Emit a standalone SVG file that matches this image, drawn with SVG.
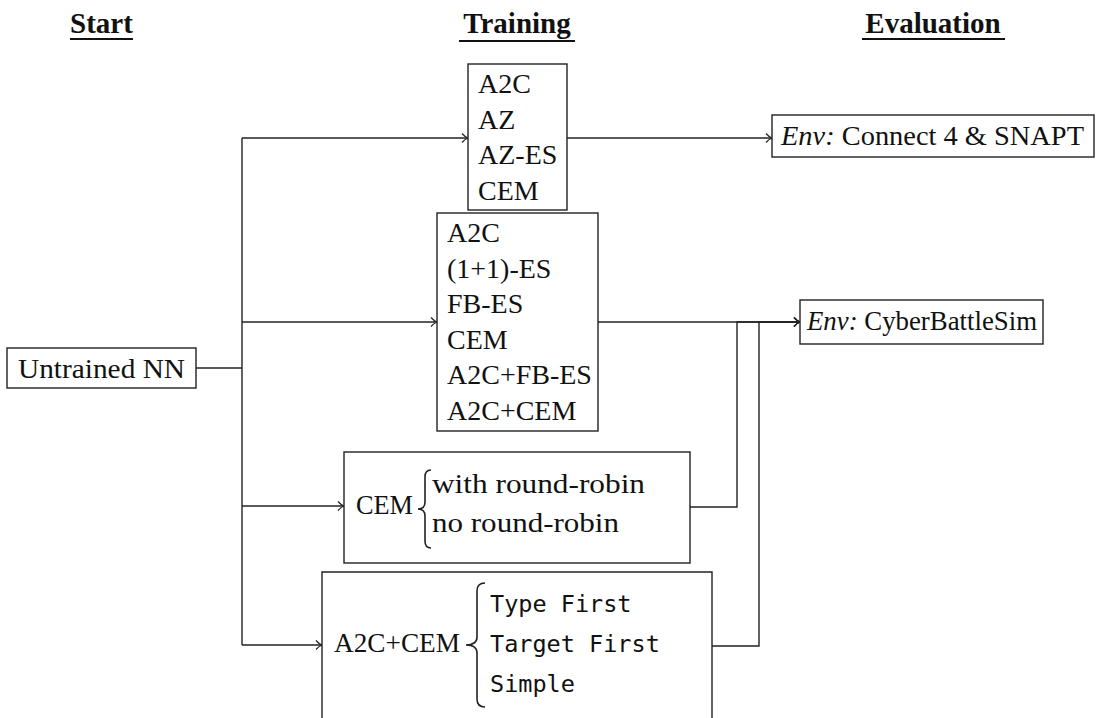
<svg xmlns="http://www.w3.org/2000/svg" width="1098" height="718" viewBox="0 0 1098 718">
<style>
.box{fill:#fff;stroke:#222;stroke-width:1.4}
.t{font-family:"Liberation Serif","Times New Roman",serif;font-size:28px;fill:#111}
.m{font-family:"DejaVu Sans Mono","Liberation Mono",monospace;font-size:23.5px;fill:#111}
.h{font-family:"Liberation Serif","Times New Roman",serif;font-size:29px;font-weight:bold;fill:#111}
.ln{fill:none;stroke:#222;stroke-width:1.4}
.br{fill:none;stroke:#222;stroke-width:1.6}
</style>
<defs>
<marker id="ar" markerUnits="userSpaceOnUse" markerWidth="12" markerHeight="12" refX="10" refY="6" orient="auto" overflow="visible">
<path d="M4,1.5 Q7,5 10,6 Q7,7 4,10.5" fill="none" stroke="#222" stroke-width="1.2"/>
</marker>
</defs>
<rect width="1098" height="718" fill="#fff"/>
<g id="titles">
<text class="h" x="101.5" y="33" text-anchor="middle">Start</text>
<line x1="70" y1="39" x2="133" y2="39" stroke="#111" stroke-width="2"/>
<text class="h" x="517" y="33" text-anchor="middle">Training</text>
<line x1="459" y1="41" x2="575" y2="41" stroke="#111" stroke-width="2"/>
<text class="h" x="933" y="33" text-anchor="middle">Evaluation</text>
<line x1="862" y1="39" x2="1005" y2="39" stroke="#111" stroke-width="2"/>
</g>
<g id="connectors">
<path class="ln" d="M196,368 H242" stroke-width="2"/>
<path class="ln" d="M242,138 V645"/>
<path class="ln" d="M242,138 H468" marker-end="url(#ar)"/>
<path class="ln" d="M242,322 H437" marker-end="url(#ar)"/>
<path class="ln" d="M242,506 H344" marker-end="url(#ar)"/>
<path class="ln" d="M242,645 H322" marker-end="url(#ar)"/>
<path class="ln" d="M567,138 H772" marker-end="url(#ar)"/>
<path class="ln" d="M598,322 H800" marker-end="url(#ar)"/>
<path class="ln" d="M690,507 H737 V322 H800" marker-end="url(#ar)"/>
<path class="ln" d="M712,646 H759 V322 H800" marker-end="url(#ar)"/>
</g>
<g id="untrained">
<rect class="box" x="7" y="348" width="189" height="40"/>
<text class="t" x="101.5" y="378" text-anchor="middle" textLength="167" lengthAdjust="spacingAndGlyphs">Untrained NN</text>
</g>
<g id="train1">
<rect class="box" x="468" y="64" width="99" height="146"/>
<text class="t" x="478" y="93">A2C</text>
<text class="t" x="478" y="128.5">AZ</text>
<text class="t" x="478" y="164">AZ-ES</text>
<text class="t" x="478" y="199.5">CEM</text>
</g>
<g id="train2">
<rect class="box" x="437" y="213" width="161" height="218"/>
<text class="t" x="447" y="242">A2C</text>
<text class="t" x="447" y="277.5">(1+1)-ES</text>
<text class="t" x="447" y="313">FB-ES</text>
<text class="t" x="447" y="348.5">CEM</text>
<text class="t" x="447" y="384">A2C+FB-ES</text>
<text class="t" x="447" y="419.5">A2C+CEM</text>
</g>
<g id="train3">
<rect class="box" x="344" y="452" width="346" height="111"/>
<text class="t" x="356" y="514" textLength="57" lengthAdjust="spacingAndGlyphs">CEM</text>
<path class="br" d="M431,470 Q425,470 425,477 V502 Q425,509 418,509 Q425,509 425,516 V541 Q425,548 431,548"/>
<text class="t" x="432" y="493" textLength="213" lengthAdjust="spacingAndGlyphs">with round-robin</text>
<text class="t" x="432" y="532" textLength="187" lengthAdjust="spacingAndGlyphs">no round-robin</text>
</g>
<g id="train4">
<path class="box" d="M322,718 V572 H712 V718"/>
<text class="t" x="334" y="652" textLength="126" lengthAdjust="spacingAndGlyphs">A2C+CEM</text>
<path class="br" d="M485,583 Q477,583 477,591 V637 Q477,645 466,645 Q477,645 477,653 V699 Q477,707 485,707"/>
<text class="m" x="490" y="612">Type First</text>
<text class="m" x="490" y="652">Target First</text>
<text class="m" x="490" y="692">Simple</text>
</g>
<g id="env1">
<rect class="box" x="772" y="115" width="322" height="42"/>
<text class="t" x="781" y="145" textLength="303" lengthAdjust="spacingAndGlyphs"><tspan font-style="italic">Env:</tspan> Connect 4 &amp; SNAPT</text>
</g>
<g id="env2">
<rect class="box" x="800" y="300" width="243" height="44"/>
<text class="t" x="807" y="330" textLength="230" lengthAdjust="spacingAndGlyphs"><tspan font-style="italic">Env:</tspan> CyberBattleSim</text>
</g>
</svg>
